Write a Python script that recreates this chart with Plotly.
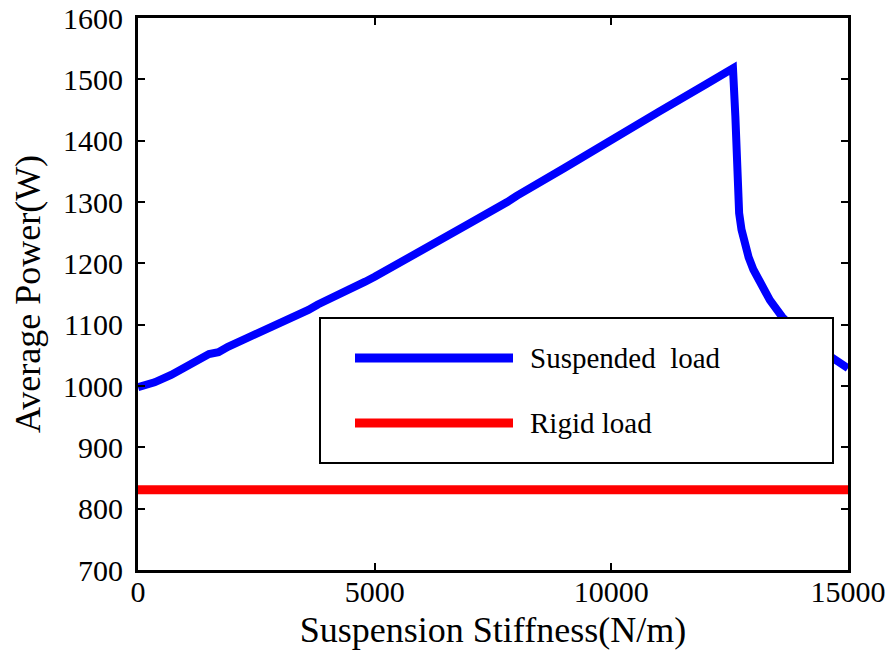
import plotly.graph_objects as go

# Data
stiffness = [0, 350, 700, 1100, 1500, 1700, 1900, 2300, 2800, 3000, 3600, 3800, 4300,
             4800, 5000, 5600, 6200, 6400, 7000, 7800, 8000, 9000, 10000, 10200, 11000,
             12000, 12570, 12620, 12655, 12700, 12750, 12800, 12900, 13000, 13141,
             13350, 13606, 14000, 14400, 14683, 15000]
suspended_power = [998, 1006, 1018, 1034, 1052, 1055, 1064, 1078, 1095, 1102, 1124, 1133, 1150,
                   1170, 1178, 1203, 1230, 1238, 1265, 1300, 1310, 1355, 1402, 1412, 1447,
                   1492, 1518, 1440, 1320, 1282, 1255, 1236, 1210, 1190, 1168,
                   1140, 1113, 1082, 1060, 1046, 1029]
rigid_power = [831] * len(stiffness)

series_names = ["Suspended\u00a0 load", "Rigid load"]
series_colors = ["#0000ff", "#ff0000"]
x_tickvals = [0, 5000, 10000, 15000]
x_ticktext = ["0", "5000", "10000", "15000"]
y_tickvals = [700, 800, 900, 1000, 1100, 1200, 1300, 1400, 1500, 1600]

FONT = "Liberation Serif"

fig = go.Figure()
fig.add_trace(go.Scatter(x=stiffness, y=rigid_power, mode="lines",
                         line=dict(color=series_colors[1], width=9),
                         name=series_names[1], showlegend=False))
fig.add_trace(go.Scatter(x=stiffness, y=suspended_power, mode="lines",
                         line=dict(color=series_colors[0], width=8),
                         name=series_names[0], showlegend=False))

# Custom legend box (paper coordinates)
L, R, T, B = 138, 848, 18, 570
W, H = 892, 657
def px(x):
    return (x - L) / (R - L)
def py(y):
    return (B - y) / (B - T)

fig.add_shape(type="rect", xref="paper", yref="paper",
              x0=px(320), x1=px(833), y0=py(463), y1=py(318),
              line=dict(color="black", width=2), fillcolor="white", layer="above")
for yy, name, col in [(358, series_names[0], series_colors[0]),
                      (423, series_names[1], series_colors[1])]:
    fig.add_shape(type="line", xref="paper", yref="paper",
                  x0=px(355), x1=px(513), y0=py(yy), y1=py(yy),
                  line=dict(color=col, width=9), layer="above")
    fig.add_annotation(xref="paper", yref="paper", x=px(528), y=py(yy),
                       text=name, showarrow=False, xanchor="left", yanchor="middle",
                       font=dict(family=FONT, size=29, color="black"))

axis_common = dict(showline=True, linecolor="black", linewidth=3, mirror="ticks",
                   ticks="inside", ticklen=7, tickwidth=2, tickcolor="black",
                   showgrid=False, zeroline=False, automargin=False,
                   tickfont=dict(family=FONT, size=30, color="black"))

fig.update_layout(
    width=W, height=H,
    margin=dict(l=L, r=W - R, t=T, b=H - B),
    plot_bgcolor="white", paper_bgcolor="white",
    xaxis=dict(range=[0, 15000], tickvals=x_tickvals, ticktext=x_ticktext,
               ticklabelstandoff=-7,
               title=dict(text="Suspension Stiffness(N/m)", standoff=10,
                          font=dict(family=FONT, size=36, color="black")),
               **axis_common),
    yaxis=dict(range=[700, 1600], tickvals=y_tickvals, ticklabelstandoff=6,
               title=dict(text="Average Power(W)", standoff=12,
                          font=dict(family=FONT, size=36, color="black")),
               **axis_common),
)

fig.write_html("out.html")
